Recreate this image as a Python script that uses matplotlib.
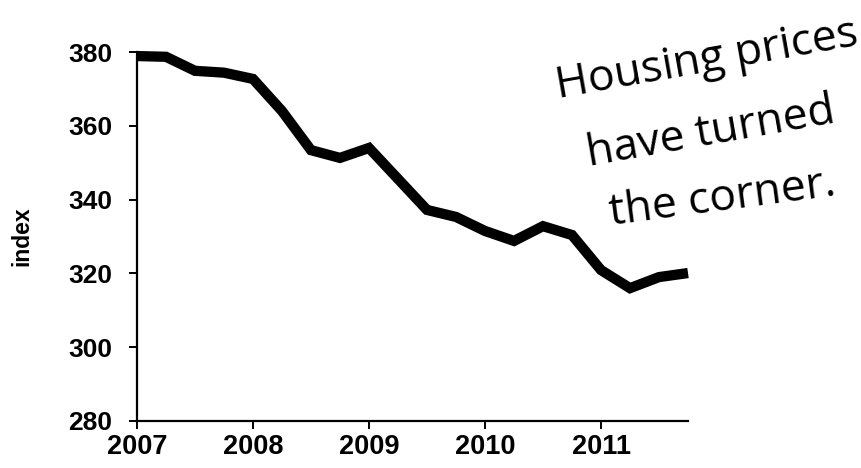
import matplotlib
matplotlib.use("Agg")
import matplotlib.pyplot as plt
import numpy as np

# quarterly dates and index values
dates = [2007.0, 2007.25, 2007.5, 2007.75,
         2008.0, 2008.25, 2008.5, 2008.75,
         2009.0, 2009.25, 2009.5, 2009.75,
         2010.0, 2010.25, 2010.5, 2010.75,
         2011.0, 2011.25, 2011.5, 2011.75]
index_values = [378.9, 378.7, 374.9, 374.4,
                372.7, 364.0, 353.4, 351.3,
                354.0, 345.6, 337.2, 335.3,
                331.5, 328.8, 332.8, 330.4,
                320.9, 316.0, 319.0, 320.1]
x_ticks = [2007, 2008, 2009, 2010, 2011]
y_ticks = [280, 300, 320, 340, 360, 380]
note_lines = ["Housing prices", "have turned", "the corner."]

plt.rcParams['font.family'] = ['Liberation Sans', 'DejaVu Sans']

fig = plt.figure(figsize=(8.61, 4.68), dpi=100)
ax = fig.add_axes([137/861, 1 - 421/468, (688-137)/861, (421-52)/468])

ax.plot(dates, index_values, color='black', linewidth=7.4,
        solid_joinstyle='miter', solid_capstyle='butt', clip_on=False)

ax.set_xlim(2007, 2011.75)
ax.set_ylim(280, 380)
ax.set_xticks(x_ticks)
ax.set_xticklabels([str(t) for t in x_ticks])
ax.set_yticks(y_ticks)
ax.set_yticklabels([str(t) for t in y_ticks])

for s in ['top', 'right']:
    ax.spines[s].set_visible(False)
for s in ['left', 'bottom']:
    ax.spines[s].set_linewidth(1.6)
    ax.spines[s].set_color('black')

ax.tick_params(axis='both', direction='out', length=6, width=1.4,
               colors='black')
ax.tick_params(axis='y', labelsize=19, pad=12)
ax.tick_params(axis='x', labelsize=19.5, pad=3)
for lab in ax.get_xticklabels() + ax.get_yticklabels():
    lab.set_fontweight('bold')

ax.set_ylabel('index', fontsize=16.5, fontweight='bold')
ax.yaxis.set_label_coords(-0.188, 0.5)

# handwritten-style note
positions = [(707/861, 1 - 60/468, 10), (711/861, 1 - 133/468, 10), (722/861, 1 - 199/468, 7.5)]
for text, (fx, fy, rot) in zip(note_lines, positions):
    fig.text(fx, fy, text, fontsize=32, family=['Open Sans', 'DejaVu Sans'],
             fontweight='normal', rotation=rot, ha='center', va='center',
             color='black', rotation_mode='anchor')

fig.savefig('out.png', dpi=100)
